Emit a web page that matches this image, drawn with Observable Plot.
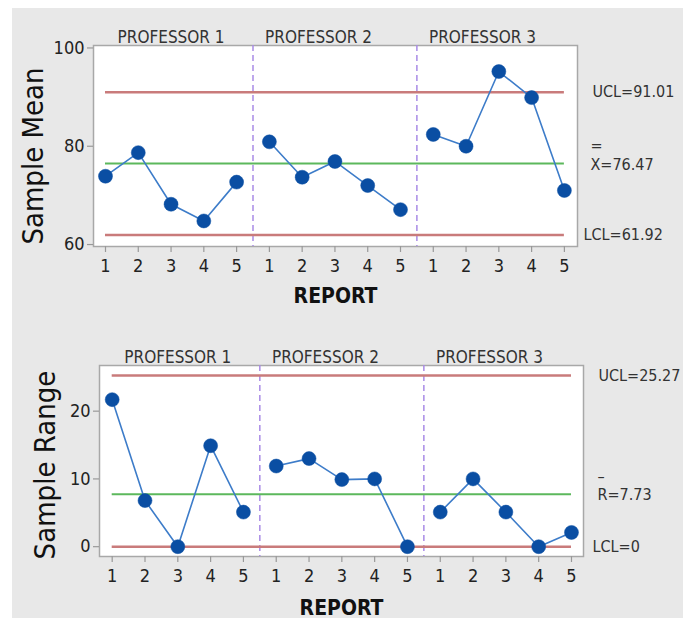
<!DOCTYPE html>
<html><head><meta charset="utf-8">
<script src="https://cdn.jsdelivr.net/npm/d3@7"></script>
<script src="https://cdn.jsdelivr.net/npm/@observablehq/plot@0.6"></script>
<style>
body{margin:0;background:#fff;}
#wrap{position:relative;width:690px;height:618px;background:#fff;overflow:hidden;}
#bg{position:absolute;left:12px;top:8px;width:671px;height:610px;background:#e8e8e8;}
#top,#bot{position:absolute;left:0;}
#top{top:0;}
#bot{top:310px;}
</style></head>
<body><div id="wrap"><div id="bg"></div><div id="top"></div><div id="bot"></div></div>
<script>
const professors = ["PROFESSOR 1", "PROFESSOR 2", "PROFESSOR 3"];
const reports = [1, 2, 3, 4, 5];
const sampleMean = [73.9, 78.7, 68.2, 64.8, 72.7, 80.9, 73.7, 76.9, 72.0, 67.1, 82.4, 80.0, 95.2, 89.9, 71.0];
const sampleRange = [21.7, 6.8, 0, 14.9, 5.1, 11.9, 13.0, 9.9, 10.0, 0, 5.1, 10.0, 5.1, 0, 2.1];
const meanLimits = {ucl: 91.01, cl: 76.47, lcl: 61.92};
const rangeLimits = {ucl: 25.27, cl: 7.73, lcl: 0};
const meanTicks = [60, 80, 100];
const rangeTicks = [0, 10, 20];

const FONT = "'Liberation Sans Narrow', 'DejaVu Sans Condensed', Roboto, sans-serif";
const n = professors.length * reports.length;
const rows = professors.flatMap((p, i) => reports.map((r, j) => ({
  idx: i * reports.length + j + 1, prof: p, report: r,
  mean: sampleMean[i * reports.length + j], range: sampleRange[i * reports.length + j]
})));
const dividers = professors.slice(1).map((p, i) => (i + 1) * reports.length + 0.5);
const profLabelX = (d, i) => i === 0 ? 3 : i * reports.length + 2.5;

function panel({key, limits, ticks, yDomain, xDomain, margins, yLabel, clLabel, ylabDx, ylabDy, lblDx, reportDy}) {
  return Plot.plot({
    width: 690, height: margins.h,
    marginLeft: margins.l, marginRight: margins.r, marginTop: margins.t, marginBottom: margins.b,
    style: {background: "transparent", fontFamily: FONT, color: "#222"},
    x: {domain: xDomain, axis: null},
    y: {domain: yDomain, axis: null},
    marks: [
      Plot.frame({fill: "white", stroke: "#a8a8a8", strokeWidth: 1.5}),
      Plot.axisY(ticks, {tickSize: 6, stroke: "#999", strokeWidth: 1.2, fontSize: 18, tickPadding: 3, fill: "#222", label: null}),
      Plot.axisX(rows.map(d => d.idx), {tickSize: 6, stroke: "#999", strokeWidth: 1.2, fontSize: 18, tickPadding: 7, fill: "#222", label: null,
        tickFormat: v => reports[(v - 1) % reports.length]}),
      Plot.ruleX(dividers, {stroke: "#a98be6", strokeWidth: 1.5, strokeDasharray: "6,4"}),
      Plot.ruleY([limits.ucl, limits.lcl], {x1: 1, x2: n, stroke: "#c97b7b", strokeWidth: 2.5}),
      Plot.ruleY([limits.cl], {x1: 1, x2: n, stroke: "#5cb85c", strokeWidth: 2}),
      Plot.line(rows, {x: "idx", y: key, z: "prof", stroke: "#3d7cc9", strokeWidth: 1.6}),
      Plot.dot(rows, {x: "idx", y: key, r: 7, fill: "#0a4ea3", stroke: "#0a4ea3", strokeWidth: 0.5}),
      Plot.text(professors, {x: profLabelX, frameAnchor: "top", dy: -15, fontSize: 17, fill: "#333"}),
      Plot.text([`UCL=${limits.ucl}`], {y: [limits.ucl], frameAnchor: "right", dx: lblDx.ucl, textAnchor: "start", fontSize: 16, fill: "#333"}),
      Plot.text([clLabel], {y: [limits.cl], frameAnchor: "right", dx: lblDx.cl, dy: 6, textAnchor: "start", lineAnchor: "bottom", lineHeight: 1.15, fontSize: 16, fill: "#333"}),
      Plot.text([`LCL=${limits.lcl}`], {y: [limits.lcl], frameAnchor: "right", dx: lblDx.lcl, textAnchor: "start", fontSize: 16, fill: "#333"}),
      Plot.text([yLabel], {frameAnchor: "left", textAnchor: "middle", dx: ylabDx, dy: ylabDy, rotate: -90, fontSize: 29, fill: "#111"}),
      Plot.text(["REPORT"], {frameAnchor: "bottom", dy: reportDy, fontSize: 21, fontWeight: "bold", fill: "#111"})
    ]
  });
}

document.getElementById("top").append(panel({
  key: "mean", limits: meanLimits, ticks: meanTicks,
  yDomain: [59.6, 100.5], xDomain: [0.634, 15.4],
  margins: {h: 310, l: 93, r: 113, t: 45, b: 64},
  yLabel: "Sample Mean", clLabel: `=\nX=${meanLimits.cl}`,
  ylabDx: -60, ylabDy: 10, lblDx: {ucl: 15, cl: 13, lcl: 6}, reportDy: 56
}));
document.getElementById("bot").append(panel({
  key: "range", limits: rangeLimits, ticks: rangeTicks,
  yDomain: [-1.45, 26.74], xDomain: [0.613, 15.366],
  margins: {h: 308, l: 99, r: 107, t: 55, b: 62},
  yLabel: "Sample Range", clLabel: `–\nR=${rangeLimits.cl}`,
  ylabDx: -54, ylabDy: 4, lblDx: {ucl: 15, cl: 14, lcl: 9}, reportDy: 58
}));
</script></body></html>
